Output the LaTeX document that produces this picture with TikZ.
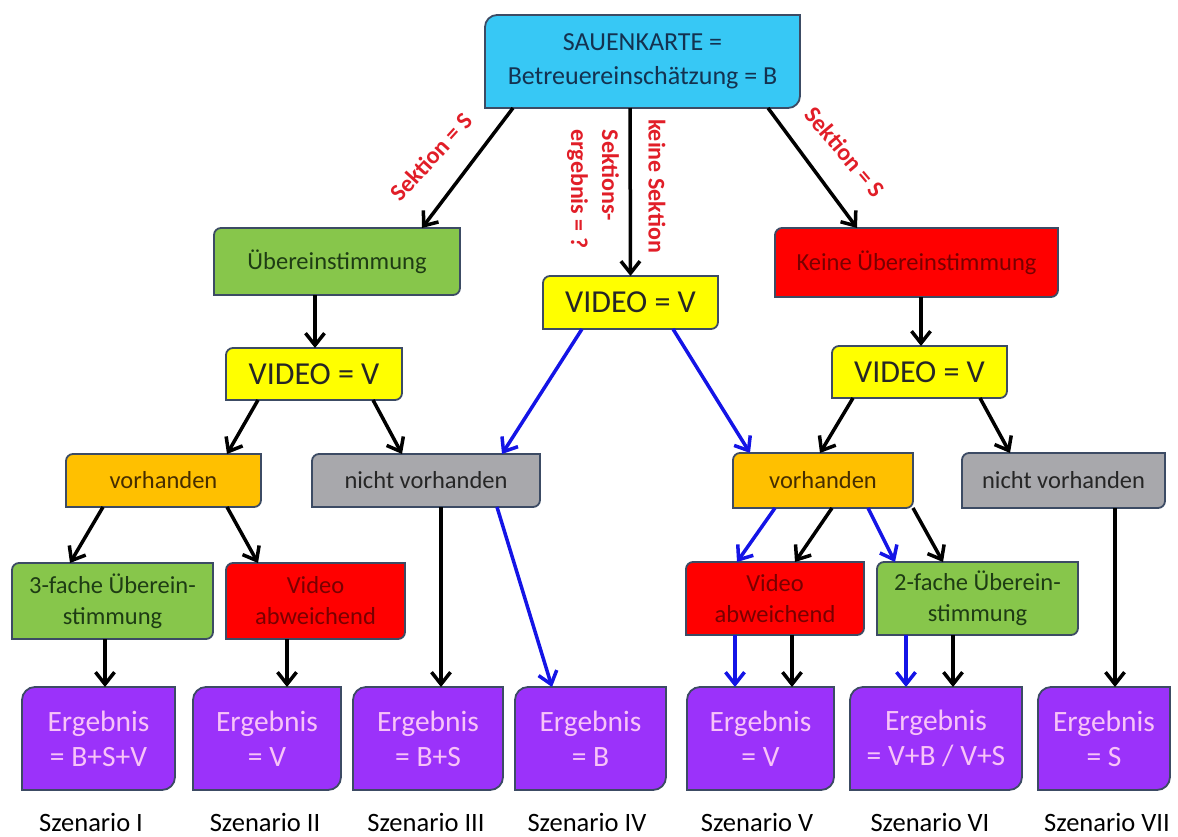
\documentclass[tikz,border=0pt]{standalone}
\usepackage{fontspec}
\setmainfont{Carlito}
\usetikzlibrary{arrows.meta,backgrounds}

\definecolor{kartecyan}{RGB}{55,200,245}
\definecolor{okgreen}{RGB}{135,198,75}
\definecolor{vidyellow}{RGB}{255,255,0}
\definecolor{badred}{RGB}{255,0,0}
\definecolor{vororange}{RGB}{255,192,0}
\definecolor{nichtgrey}{RGB}{168,168,172}
\definecolor{ergpurple}{RGB}{155,50,250}
\definecolor{ergtext}{RGB}{248,195,248}
\definecolor{edgeline}{RGB}{60,75,100}
\definecolor{labelred}{RGB}{225,30,40}
\definecolor{pathblue}{RGB}{20,20,230}

\tikzset{
  box/.style={inner sep=0pt, outer sep=0pt, align=center, text=black!85,
    font=\fontsize{24.5}{31}\selectfont},
  videobox/.style={box, minimum width=175pt, minimum height=53pt,
    font=\fontsize{32}{38}\selectfont},
  ergbox/.style={box, minimum height=103pt, text=ergtext,
    font=\fontsize{29.5}{35}\selectfont},
  szen/.style={anchor=base, font=\fontsize{26.5}{30}\selectfont},
  lbl/.style={text=labelred, font=\bfseries\fontsize{24}{31}\selectfont},
  arr/.style={line width=3.5pt, -{Straight Barb[length=12pt,width=19pt]}},
  bluearr/.style={arr, pathblue},
}

\begin{document}
\begin{tikzpicture}[x=1pt, y=-1pt]
  \useasboundingbox (0,0) rectangle (1178,836);
  % top card
  \node[box, minimum width=315pt, minimum height=93pt, text={rgb,255:red,20;green,50;blue,80},
    font=\fontsize{26}{34}\selectfont] (top) at (642.5,61.5) {SAUENKARTE =\\Betreuereinschätzung = B};
  % second level
  \node[box, minimum width=246pt, minimum height=67pt, text={rgb,255:red,30;green,60;blue,20}] (ueber) at (337,261.5) {Übereinstimmung};
  \node[videobox] (vidC) at (630.5,302.5) {VIDEO = V};
  \node[box, minimum width=283pt, minimum height=69pt, text={rgb,255:red,120;green,0;blue,0}] (keine) at (916.5,262.5) {Keine Übereinstimmung};
  \node[videobox, minimum width=176pt, minimum height=52pt] (vidL) at (314,374) {VIDEO = V};
  \node[videobox, minimum height=52pt] (vidR) at (919.5,372) {VIDEO = V};
  % vorhanden / nicht vorhanden
  \node[box, minimum width=195pt, minimum height=53pt, text={rgb,255:red,70;green,45;blue,0}] (vorL) at (163.5,480.5) {vorhanden};
  \node[box, minimum width=228pt, minimum height=53pt] (nichtL) at (426,480.5) {nicht vorhanden};
  \node[box, minimum width=180pt, minimum height=55pt, text={rgb,255:red,70;green,45;blue,0}] (vorR) at (823,480.5) {vorhanden};
  \node[box, minimum width=203pt, minimum height=55pt] (nichtR) at (1063.5,480.5) {nicht vorhanden};
  % comparison boxes
  \node[box, minimum width=201pt, minimum height=76pt, text={rgb,255:red,30;green,60;blue,20}] (dreifach) at (112.5,601) {3-fache Überein-\\stimmung};
  \node[box, minimum width=179pt, minimum height=76pt, text={rgb,255:red,120;green,0;blue,0}] (abwL) at (315.5,601) {Video\\abweichend};
  \node[box, minimum width=178pt, minimum height=73pt, text={rgb,255:red,120;green,0;blue,0}] (abwR) at (775,598.5) {Video\\abweichend};
  \node[box, minimum width=201pt, minimum height=73pt, text={rgb,255:red,30;green,60;blue,20}] (zweifach) at (977.5,598.5) {2-fache Überein-\\stimmung};
  % results
  \node[ergbox, minimum width=153pt] (erg1) at (98.5,738.5) {Ergebnis\\= B+S+V};
  \node[ergbox, minimum width=148pt] (erg2) at (267,738.5) {Ergebnis\\= V};
  \node[ergbox, minimum width=150pt] (erg3) at (428,738.5) {Ergebnis\\= B+S};
  \node[ergbox, minimum width=151pt] (erg4) at (590.5,738.5) {Ergebnis\\= B};
  \node[ergbox, minimum width=147pt] (erg5) at (760.5,738.5) {Ergebnis\\= V};
  \node[ergbox, minimum width=172pt] (erg6) at (936,738.5) {Ergebnis\\= V+B / V+S};
  \node[ergbox, minimum width=132pt] (erg7) at (1104,738.5) {Ergebnis\\= S};
  % scenario names
  \node[szen] (sz1) at (91,831) {Szenario I};
  \node[szen] (sz2) at (265,831) {Szenario II};
  \node[szen] (sz3) at (426,831) {Szenario III};
  \node[szen] (sz4) at (587,831) {Szenario IV};
  \node[szen] (sz5) at (757,831) {Szenario V};
  \node[szen] (sz6) at (930,831) {Szenario VI};
  \node[szen] (sz7) at (1107,831) {Szenario VII};

  % box shapes, rounded top left and bottom right
  \begin{scope}[on background layer]
    \foreach \n/\c/\r in {top/kartecyan/12, ueber/okgreen/7, vidC/vidyellow/7, keine/badred/7,
        vidL/vidyellow/7, vidR/vidyellow/7, vorL/vororange/7, nichtL/nichtgrey/7,
        vorR/vororange/7, nichtR/nichtgrey/7, dreifach/okgreen/7, abwL/badred/7,
        abwR/badred/7, zweifach/okgreen/7, erg1/ergpurple/13, erg2/ergpurple/13,
        erg3/ergpurple/13, erg4/ergpurple/13, erg5/ergpurple/13, erg6/ergpurple/13,
        erg7/ergpurple/13}
      \draw[edgeline, line width=1.8pt, fill=\c] (\n.south west)
        -- ([yshift=-\r pt]\n.north west) arc[start angle=180, end angle=90, radius=\r pt]
        -- (\n.north east) -- ([yshift=\r pt]\n.south east)
        arc[start angle=0, end angle=-90, radius=\r pt] -- cycle;
  \end{scope}

  % labels on the top arrows
  \node[lbl, rotate=47.8] (lblSl) at (431,157) {Sektion = S};
  \node[lbl, rotate=-90] (lblKeine) at (657,186) {keine Sektion};
  \node[lbl, rotate=-90, align=left] (lblOffen) at (593,189) {Sektions-\\ergebnis = ?};
  \node[lbl, rotate=-49.8] (lblSr) at (845,152) {Sektion = S};

  % arrows
  \draw[arr] ([xshift=-129.5pt]top.south) -- ([xshift=85pt]ueber.north);
  \draw[arr] ([xshift=-12.5pt]top.south) -- (vidC.north);
  \draw[arr] ([xshift=125.5pt]top.south) -- ([xshift=-59.5pt]keine.north);
  \draw[arr] ([xshift=-22pt]ueber.south) -- ([xshift=1pt]vidL.north);
  \draw[arr] ([xshift=4.5pt]keine.south) -- ([xshift=1.5pt]vidR.north);
  \draw[arr] ([xshift=-56pt]vidL.south) -- ([xshift=63.5pt]vorL.north);
  \draw[arr] ([xshift=59pt]vidL.south) -- ([xshift=-24pt]nichtL.north);
  \draw[bluearr] ([xshift=-48.5pt]vidC.south) -- ([xshift=76pt]nichtL.north);
  \draw[bluearr] ([xshift=42.5pt]vidC.south) -- ([xshift=-73pt]vorR.north);
  \draw[arr] ([xshift=-66.5pt]vidR.south) -- ([xshift=-3pt]vorR.north);
  \draw[arr] ([xshift=60.5pt]vidR.south) -- ([xshift=-53.5pt]nichtR.north);
  \draw[arr] ([xshift=-60.5pt]vorL.south) -- ([xshift=-42.5pt]dreifach.north);
  \draw[arr] ([xshift=63.5pt]vorL.south) -- ([xshift=-57.5pt]abwL.north);
  \draw[arr] ([xshift=15pt]nichtL.south) -- ([xshift=13pt]erg3.north);
  \draw[bluearr] ([xshift=71pt]nichtL.south) -- ([xshift=-38.5pt]erg4.north);
  \draw[bluearr] ([xshift=-48pt]vorR.south) -- ([xshift=-38pt]abwR.north);
  \draw[arr] ([xshift=9pt]vorR.south) -- ([xshift=20pt]abwR.north);
  \draw[bluearr] ([xshift=45pt]vorR.south) -- ([xshift=-82.5pt]zweifach.north);
  \draw[arr] ([xshift=90pt]vorR.south) -- ([xshift=-34.5pt]zweifach.north);
  \draw[arr] ([xshift=51.5pt]nichtR.south) -- ([xshift=11pt]erg7.north);
  \draw[arr] ([xshift=-7.5pt]dreifach.south) -- ([xshift=6.5pt]erg1.north);
  \draw[arr] ([xshift=-28.5pt]abwL.south) -- ([xshift=20pt]erg2.north);
  \draw[bluearr] ([xshift=-40pt]abwR.south) -- ([xshift=-25.5pt]erg5.north);
  \draw[arr] ([xshift=17pt]abwR.south) -- ([xshift=31.5pt]erg5.north);
  \draw[bluearr] ([xshift=-71.5pt]zweifach.south) -- ([xshift=-30pt]erg6.north);
  \draw[arr] ([xshift=-24.5pt]zweifach.south) -- ([xshift=17pt]erg6.north);
\end{tikzpicture}
\end{document}
